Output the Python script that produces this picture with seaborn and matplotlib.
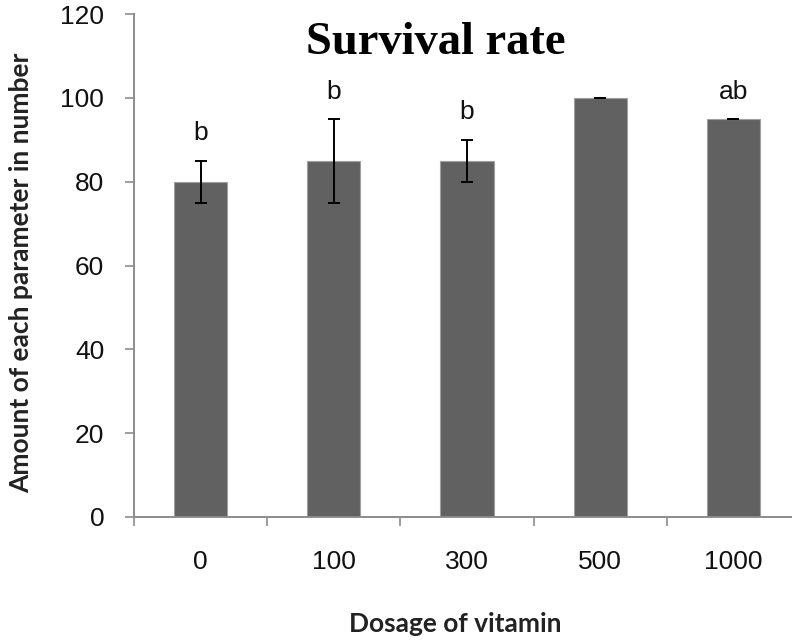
import numpy as np
import pandas as pd
import matplotlib
matplotlib.use("Agg")
import matplotlib.pyplot as plt
from matplotlib.ticker import FixedLocator
import seaborn as sns

dosages = ["0", "100", "300", "500", "1000"]
survival = [80, 85, 85, 100, 95]
errors = [5, 10, 5, 0, 0]
letters = ["b", "b", "b", "", "ab"]
yticks = [0, 20, 40, 60, 80, 100, 120]

sns.set_theme(style="white")
plt.rcParams["font.family"] = ["Liberation Sans", "DejaVu Sans"]

W, H = 792, 641
fig = plt.figure(figsize=(W / 100, H / 100), dpi=100)
ax = fig.add_axes([134 / W, 124 / H, 666 / W, 503 / H])

df = pd.DataFrame({"dose": dosages, "rate": survival})
sns.barplot(data=df, x="dose", y="rate", color="#616161", width=0.4,
            errorbar=None, saturation=1, edgecolor="#a0a0a0", linewidth=0.8, ax=ax)

xs = np.arange(len(dosages))
ax.errorbar(xs, survival, yerr=errors, fmt="none", ecolor="black",
            elinewidth=1.4, capsize=4.5, capthick=1.4, zorder=5)

for x, v, e, t in zip(xs, survival, errors, letters):
    if t:
        ax.annotate(t, (x, v + e), xytext=(0, 11), textcoords="offset points",
                    ha="center", va="bottom", fontsize=19, color="#111111")

ax.set_ylim(0, 120)
ax.set_yticks(yticks)
ax.set_xlim(-0.5, len(dosages) - 0.5)

spine_c = "#8c8c8c"
for s in ["top", "right"]:
    ax.spines[s].set_visible(False)
for s in ["left", "bottom"]:
    ax.spines[s].set_color(spine_c)
    ax.spines[s].set_linewidth(1.4)

ax.tick_params(axis="y", which="major", left=True, length=6.5, width=1.2,
               color=spine_c, pad=15, labelsize=19, labelcolor="#111111")
ax.tick_params(axis="x", which="major", bottom=False, length=0, pad=24,
               labelsize=19, labelcolor="#111111")
ax.xaxis.set_minor_locator(FixedLocator(np.arange(-0.5, len(dosages), 1.0)))
ax.tick_params(axis="x", which="minor", bottom=True, length=6.5, width=1.2,
               color=spine_c)

ax.set_xlabel("Dosage of vitamin", fontsize=19, fontweight="bold",
              family=["Lato", "DejaVu Sans"], color="#222222")
ax.set_ylabel("Amount of each parameter in number", fontsize=19, fontweight="bold",
              family=["Lato", "DejaVu Sans"], color="#222222")
ax.xaxis.set_label_coords((455 - 134) / 666, (517 - 612) / 503)
ax.yaxis.set_label_coords((33 - 134) / 666, (517 - 273) / 503)

fig.text(436 / W, 1 - 43 / H, "Survival rate", ha="center", va="center",
         fontsize=33.5, fontweight="bold", family=["Liberation Serif", "DejaVu Serif"],
         color="black")

fig.savefig("out.png", dpi=100)
